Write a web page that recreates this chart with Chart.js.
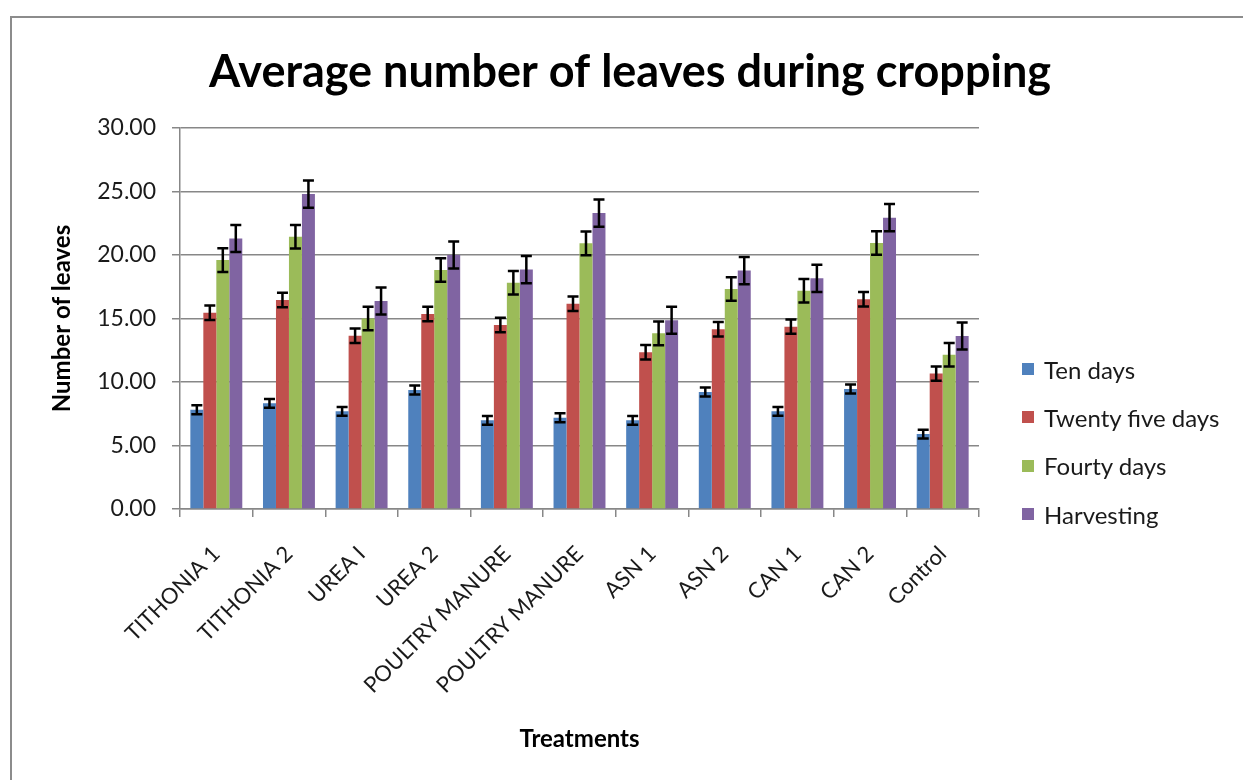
<!DOCTYPE html>
<html>
<head>
<meta charset="utf-8">
<script src="https://cdn.jsdelivr.net/npm/chart.js@4.4.1/dist/chart.umd.min.js"></script>
<style>
  html, body { margin: 0; padding: 0; background: #fff; overflow: hidden; }
  #wrap { position: relative; width: 1243px; height: 780px; }
  #frame { position: absolute; left: 10px; top: 16px; width: 1300px; height: 800px; border: 2px solid #8c8c8c; box-sizing: border-box; }
  #legend { position: absolute; left: 1022px; top: 345px; font-family: Lato, sans-serif; font-size: 24px; color: #1a1a1a; }
  #legend div { height: 48.3px; display: flex; align-items: center; white-space: nowrap; }
  #legend span.box { display: inline-block; width: 12px; height: 12px; margin-right: 10px; }
</style>
</head>
<body>
<div id="wrap">
  <div id="frame"></div>
  <canvas id="chart" width="1243" height="780"></canvas>
  <div id="legend"></div>
</div>
<script>
// données
const treatments = ['TITHONIA 1', 'TITHONIA 2', 'UREA I', 'UREA 2', 'POULTRY MANURE', 'POULTRY MANURE', 'ASN 1', 'ASN 2', 'CAN 1', 'CAN 2', 'Control'];
const seriesNames = ['Ten days', 'Twenty five days', 'Fourty days', 'Harvesting'];
const seriesColors = ['#4F81BD', '#C0504D', '#9BBB59', '#8064A2'];

const tenDays = [7.82, 8.32, 7.69, 9.37, 6.98, 7.19, 6.98, 9.21, 7.69, 9.45, 5.90];
const twentyFiveDays = [15.46, 16.46, 13.65, 15.35, 14.49, 16.17, 12.34, 14.15, 14.36, 16.51, 10.66];
const fourtyDays = [19.60, 21.44, 15.00, 18.82, 17.82, 20.92, 13.83, 17.32, 17.19, 20.94, 12.15];
const harvesting = [21.30, 24.80, 16.38, 20.00, 18.85, 23.30, 14.86, 18.77, 18.16, 22.94, 13.62];

const tenErr = [0.35, 0.35, 0.35, 0.35, 0.35, 0.35, 0.35, 0.35, 0.35, 0.35, 0.35];
const twentyFiveErr = [0.57, 0.57, 0.57, 0.57, 0.57, 0.57, 0.57, 0.57, 0.57, 0.57, 0.57];
const fourtyErr = [0.93, 0.93, 0.93, 0.93, 0.93, 0.93, 0.93, 0.93, 0.93, 0.93, 0.93];
const harvestErr = [1.07, 1.07, 1.07, 1.07, 1.07, 1.07, 1.07, 1.07, 1.07, 1.07, 1.07];

const yTicks = [0, 5, 10, 15, 20, 25, 30];

const allValues = [tenDays, twentyFiveDays, fourtyDays, harvesting];
const allErrors = [tenErr, twentyFiveErr, fourtyErr, harvestErr];

const GRID = '#878787';
const FONT = 'Lato, sans-serif';

// barres d'erreur
const errorBars = {
    id: 'errorBars',
    afterDatasetsDraw(chart) {
        const { ctx } = chart;
        const yScale = chart.scales.y;
        ctx.save();
        ctx.strokeStyle = '#000';
        ctx.lineWidth = 2.5;
        chart.data.datasets.forEach((ds, i) => {
            const meta = chart.getDatasetMeta(i);
            meta.data.forEach((bar, j) => {
                const v = ds.data[j];
                const e = ds.errors[j];
                const top = yScale.getPixelForValue(v + e);
                const bot = yScale.getPixelForValue(v - e);
                const x = bar.x;
                const cap = 5.5;
                ctx.beginPath();
                ctx.moveTo(x, top); ctx.lineTo(x, bot);
                ctx.moveTo(x - cap, top); ctx.lineTo(x + cap, top);
                ctx.moveTo(x - cap, bot); ctx.lineTo(x + cap, bot);
                ctx.stroke();
            });
        });
        ctx.restore();
    }
};

const datasets = seriesNames.map((name, i) => ({
    label: name,
    data: allValues[i],
    errors: allErrors[i],
    backgroundColor: seriesColors[i],
    borderWidth: 0,
    categoryPercentage: 0.715,
    barPercentage: 1.0
}));

new Chart(document.getElementById('chart').getContext('2d'), {
    type: 'bar',
    data: { labels: treatments, datasets: datasets },
    options: {
        responsive: false,
        animation: false,
        devicePixelRatio: 1,
        layout: { padding: { left: 17, top: 0, right: 0, bottom: 0 } },
        scales: {
            x: {
                grid: { display: true, drawOnChartArea: false, color: GRID, tickLength: 8, lineWidth: 1.5 },
                border: { color: GRID, width: 1.5 },
                ticks: { color: '#1a1a1a', font: { family: FONT, size: 22 }, minRotation: 45, maxRotation: 45, padding: 24, autoSkip: false },
                title: { display: true, text: 'Treatments', color: '#000', font: { family: FONT, size: 24, weight: 'bold' }, padding: 26 },
                afterFit: (scale) => { scale.height = 271; }
            },
            y: {
                min: 0, max: 30,
                afterBuildTicks: (scale) => { scale.ticks = yTicks.map(v => ({ value: v })); },
                grid: { color: GRID, tickLength: 8, lineWidth: 1.5 },
                border: { color: GRID, width: 1.5 },
                ticks: { color: '#1a1a1a', font: { family: FONT, size: 23 }, padding: 16, callback: (v) => Number(v).toFixed(2) },
                title: { display: true, text: 'Number of leaves', color: '#000', font: { family: FONT, size: 24, weight: 'bold' }, padding: 31 },
                afterFit: (scale) => { scale.width = 163; }
            },
            // espace réservé à droite pour la légende
            side: {
                type: 'linear', position: 'right', display: true,
                grid: { display: false }, border: { display: false }, ticks: { display: false },
                afterFit: (scale) => { scale.width = 264; }
            }
        },
        plugins: {
            legend: { display: false },
            tooltip: { enabled: false },
            title: {
                display: true,
                text: 'Average number of leaves during cropping',
                color: '#000',
                font: { family: FONT, size: 45, weight: 'bold' },
                padding: { top: 45, bottom: 29 }
            }
        }
    },
    plugins: [errorBars]
});

// légende à droite
const legendEl = document.getElementById('legend');
seriesNames.forEach((name, i) => {
    const row = document.createElement('div');
    const box = document.createElement('span');
    box.className = 'box';
    box.style.background = seriesColors[i];
    row.appendChild(box);
    row.appendChild(document.createTextNode(name));
    legendEl.appendChild(row);
});
</script>
</body>
</html>
